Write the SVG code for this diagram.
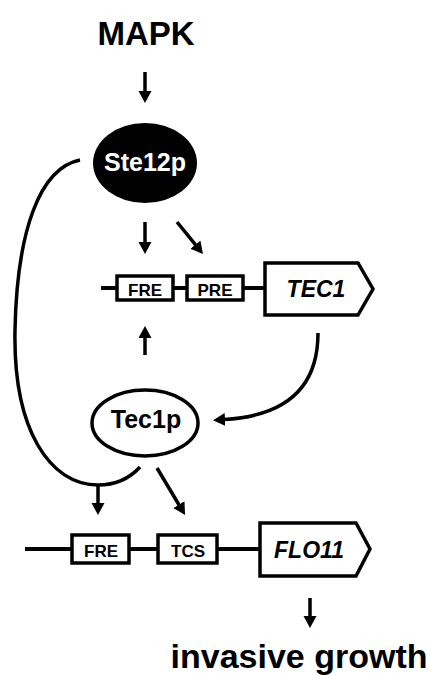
<svg xmlns="http://www.w3.org/2000/svg" width="433" height="675" viewBox="0 0 433 675">
<style>
.lbl{font-family:"Liberation Sans",Arial,sans-serif;font-weight:bold;text-anchor:middle}
.box{fill:#fff;stroke:#000;stroke-width:3.5}
.gl{stroke:#000;stroke-width:4;fill:none}
.ar{stroke:#000;stroke-width:3.5;fill:none}
</style>
<defs>
<marker id="ah" markerUnits="userSpaceOnUse" markerWidth="14" markerHeight="14" refX="1" refY="6.5" orient="auto">
<path d="M0,0 L12,6.5 L0,13 z" fill="#000"/>
</marker>
</defs>
<rect width="433" height="675" fill="#fff"/>
<g id="connectors">
<line class="ar" x1="145" y1="72" x2="145" y2="92" marker-end="url(#ah)"/>
<line class="ar" x1="145" y1="222" x2="145" y2="243" marker-end="url(#ah)"/>
<line class="ar" x1="177" y1="222" x2="196" y2="245.4" marker-end="url(#ah)"/>
<line class="ar" x1="145" y1="355" x2="145" y2="337" marker-end="url(#ah)"/>
<path class="ar" d="M318,333 C318,388 285,416 224,419.5" marker-end="url(#ah)"/>
<path class="ar" d="M80,160 C40,168 17,230 15,330 C13,430 50,485 98,485 C115,485 130,478 140,467"/>
<line class="ar" x1="98" y1="484" x2="98" y2="504" marker-end="url(#ah)"/>
<line class="ar" x1="157" y1="468" x2="179.4" y2="505.5" marker-end="url(#ah)"/>
<line class="ar" x1="310" y1="598" x2="310" y2="617" marker-end="url(#ah)"/>
</g>
<g id="MAPK"><text class="lbl" x="146" y="45" font-size="33">MAPK</text></g>
<g id="Ste12p">
<ellipse cx="145" cy="163" rx="52" ry="40" fill="#000"/>
<text class="lbl" x="145" y="171" font-size="25" fill="#fff">Ste12p</text>
</g>
<g id="gene-TEC1">
<line class="gl" x1="101" y1="288" x2="266" y2="288"/>
<rect class="box" x="117" y="276" width="56" height="24"/>
<text class="lbl" x="145" y="296" font-size="17">FRE</text>
<rect class="box" x="187" y="276" width="56" height="24"/>
<text class="lbl" x="215" y="296" font-size="17">PRE</text>
<path class="box" d="M265,263 L358,263 L373,289 L358,315 L265,315 Z"/>
<text class="lbl" x="316" y="297" font-size="23" font-style="italic">TEC1</text>
</g>
<g id="Tec1p">
<ellipse cx="145" cy="423" rx="53" ry="33" fill="#fff" stroke="#000" stroke-width="3.5"/>
<text class="lbl" x="146" y="428" font-size="25">Tec1p</text>
</g>
<g id="gene-FLO11">
<line class="gl" x1="25" y1="549" x2="261" y2="549"/>
<rect class="box" x="72" y="535" width="57" height="28"/>
<text class="lbl" x="101" y="557" font-size="17">FRE</text>
<rect class="box" x="158" y="535" width="59" height="28"/>
<text class="lbl" x="188" y="557" font-size="17">TCS</text>
<path class="box" d="M260,523 L356,523 L370,549 L356,576 L260,576 Z"/>
<text class="lbl" x="309" y="558" font-size="23" font-style="italic">FLO11</text>
</g>
<g id="invasive-growth"><text class="lbl" x="299" y="668" font-size="34">invasive growth</text></g>
</svg>
